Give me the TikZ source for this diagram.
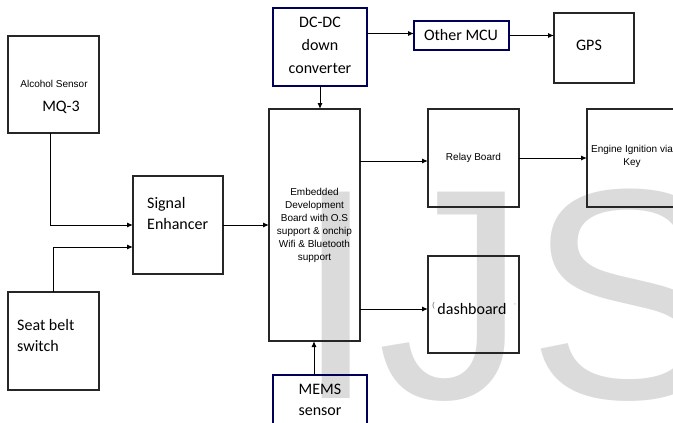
\documentclass[tikz,border=0pt]{standalone}
\usepackage{fontspec}
\newfontfamily\arialf{Liberation Sans}
\newfontfamily\calf{Carlito}
\usetikzlibrary{arrows.meta}
\tikzset{
  box/.style={draw=black!85, line width=1.1pt, inner sep=0pt, outer sep=0pt},
  bluebox/.style={draw=blue!35!black, line width=1.8pt, inner sep=0pt, outer sep=0pt},
  arr/.style={draw=black, line width=1pt, -{Latex[length=6pt,width=5pt]}},
  small/.style={font=\arialf\fontsize{10}{13}\selectfont, inner sep=0pt, align=center},
  big/.style={font=\calf\fontsize{16}{21}\selectfont, inner sep=0pt},
}
\begin{document}
\begin{tikzpicture}[x=1pt,y=-1pt]
\clip (0,0) rectangle (673,423);
\fill[white] (0,0) rectangle (673,423);
% watermark
\node[anchor=base west, inner sep=0pt, text=gray!28, font=\arialf\fontsize{300}{300}\selectfont] (wm) at (294,398) {IJS};
% boxes
\node[box, minimum width=91pt, minimum height=97pt] (alc) at (53.5,84.5) {};
\node[box, minimum width=91pt, minimum height=98pt] (seat) at (53.5,341) {};
\node[box, minimum width=90pt, minimum height=98pt] (sig) at (178,225) {};
\node[box, minimum width=91pt, minimum height=232pt] (emb) at (314.5,225) {};
\node[bluebox, minimum width=94pt, minimum height=78pt] (dcdc) at (320,47) {};
\node[bluebox, minimum width=95pt, minimum height=29pt] (mcu) at (461.5,35.5) {};
\node[box, minimum width=80pt, minimum height=70pt] (gps) at (594,48) {};
\node[box, minimum width=91pt, minimum height=98pt] (relay) at (473.5,158) {};
\node[box, minimum width=113pt, minimum height=98pt] (eng) at (643.5,158) {};
\node[box, minimum width=91pt, minimum height=97pt] (dash) at (473.5,304.5) {};
\node[bluebox, minimum width=94pt, minimum height=65pt] (mems) at (320,407.5) {};
% texts
\node[small] (talc) at (54,84) {Alcohol Sensor};
\node[big] (tmq) at (61,107) {MQ-3};
\node[big, anchor=west, align=left] (tsig) at (147,213.5) {Signal\\Enhancer};
\node[big, anchor=west, align=left] (tseat) at (17,336) {Seat belt\\switch};
\node[small] (temb) at (314.5,225) {Embedded\\Development\\Board with O.S\\support \& onchip\\Wifi \& Bluetooth\\support};
\node[big, align=center, font=\calf\fontsize{16}{23}\selectfont] (tdc) at (320,45) {DC-DC\\down\\converter};
\node[big] (tmcu) at (461,35) {Other MCU};
\node[big] (tgps) at (589,45) {GPS};
\node[small] (trelay) at (473.5,158) {Relay Board};
\node[small] (teng) at (632,156) {Engine Ignition via\\Key};
\node[big] (tdash) at (472,309) {dashboard};
\node[small, text=black!70, font=\arialf\fontsize{7}{7}\selectfont] (tdl) at (433.5,306) {(};
\node[small, text=black!40, font=\arialf\fontsize{7}{7}\selectfont] (tdr) at (515,306) {'};
\node[big, align=center] (tmems) at (320,400) {MEMS\\sensor};
% connectors
\draw[arr] ([xshift=-3.5pt]alc.south) |- (sig.west);
\draw[arr] (seat.north) |- ([yshift=-22pt]sig.west);
\draw[arr] (sig.east) -- (emb.west);
\draw[arr] (dcdc.south) -- (dcdc.south |- emb.north);
\draw[arr] ([yshift=2pt]mcu.west -| dcdc.east) -- ([yshift=2pt]mcu.west);
\draw[arr] (mcu.east) -- (mcu.east -| gps.west);
\draw[arr] ([yshift=-3pt]relay.west -| emb.east) -- ([yshift=-3pt]relay.west);
\draw[arr] (relay.east) -- (eng.west);
\draw[arr] ([yshift=-4.5pt]dash.west -| emb.east) -- ([yshift=-4.5pt]dash.west);
\draw[arr] ([xshift=-6pt]mems.north) -- ([xshift=-6pt]mems.north |- emb.south);
\end{tikzpicture}
\end{document}
